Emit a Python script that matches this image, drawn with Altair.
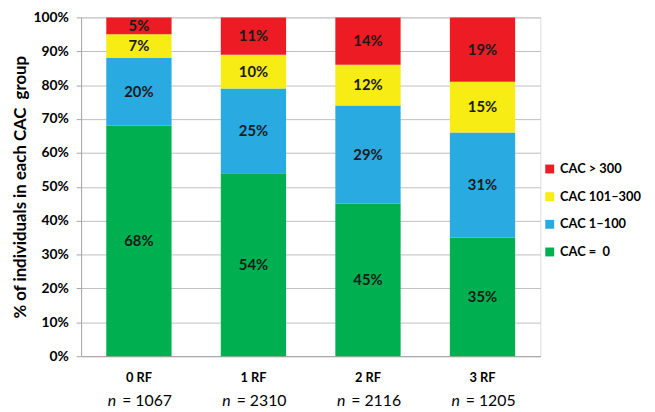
import altair as alt
import pandas as pd

groups = ["0 RF", "1 RF", "2 RF", "3 RF"]
n_values = [1067, 2310, 2116, 1205]
cac_0 = [68, 54, 45, 35]
cac_1_100 = [20, 25, 29, 31]
cac_101_300 = [7, 10, 12, 15]
cac_300 = [5, 11, 14, 19]
tick_values = [0.0, 0.1, 0.2, 0.3, 0.4, 0.5, 0.6, 0.7, 0.8, 0.9, 1.0]

categories = ["CAC =\u00a0 0", "CAC 1\u2013100", "CAC 101\u2013300", "CAC > 300"]
colors = ["#00B050", "#29ABE2", "#F7EC13", "#ED1C24"]
series = [cac_0, cac_1_100, cac_101_300, cac_300]

rows = []
for ci, (cat, vals) in enumerate(zip(categories, series)):
    for g, v in zip(groups, vals):
        rows.append({"group": g, "cat": cat, "idx": ci, "pct": v / 100.0, "lab": f"{v}%"})
df = pd.DataFrame(rows)

labels_df = pd.DataFrame({"group": groups, "n": [f"= {n}" for n in n_values], "it": ["n"] * 4})

FONT = "Lato"
W, H = 465, 343

xenc = alt.X("group:N", sort=groups,
             scale=alt.Scale(paddingInner=0.43, paddingOuter=0.22),
             axis=alt.Axis(labels=False, ticks=False, title=None, domainColor="#A6A6A6", grid=False))

yscale = alt.Scale(domain=[0, 1], nice=False)
yaxis = alt.Axis(values=tick_values, format=".0%", labelOverlap=False,
                 title="% of individuals in each CAC\u00a0 group",
                 titleFontSize=17, titleFont=FONT, titleFontWeight="bold", titleColor="#000",
                 titlePadding=3,
                 labelFont=FONT, labelFontSize=14, labelFontWeight="bold", labelColor="#000",
                 labelPadding=8, tickSize=5, tickColor="#A6A6A6", domainColor="#A6A6A6",
                 gridColor="#BFBFBF")

bars = alt.Chart(df).mark_bar().encode(
    x=xenc,
    y=alt.Y("pct:Q", stack="zero", scale=yscale, axis=yaxis),
    color=alt.Color("cat:N", sort=categories[::-1],
                    scale=alt.Scale(domain=categories[::-1], range=colors[::-1]),
                    legend=alt.Legend(title=None, orient="none", legendX=468, legendY=147,
                                      symbolType="square", symbolSize=81, symbolStrokeWidth=0,
                                      labelFont=FONT, labelFontSize=13, labelFontWeight="bold",
                                      labelColor="#000", rowPadding=14, padding=0, labelOffset=4)),
    order=alt.Order("idx:Q", sort="ascending"),
)

texts = alt.Chart(df).transform_stack(
    stack="pct", groupby=["group"], sort=[alt.SortField("idx", order="ascending")], as_=["y0", "y1"]
).transform_calculate(
    mid="(datum.y0 + datum.y1) / 2"
).mark_text(font=FONT, fontSize=15, fontWeight="bold", color="#1A1A1A", baseline="middle").encode(
    x=xenc,
    y=alt.Y("mid:Q", scale=yscale, axis=yaxis),
    text="lab:N",
)

grp_text = alt.Chart(labels_df).mark_text(font=FONT, fontSize=13, fontWeight="bold", color="#000",
                                          baseline="middle").encode(
    x=xenc, y=alt.value(H + 22), text="group:N")
n_it = alt.Chart(labels_df).mark_text(font=FONT, fontSize=16, fontStyle="italic", color="#000",
                                      baseline="middle", align="right", dx=-23).encode(
    x=xenc, y=alt.value(H + 45), text="it:N")
n_num = alt.Chart(labels_df).mark_text(font=FONT, fontSize=16, color="#000",
                                       baseline="middle", align="left", dx=-17).encode(
    x=xenc, y=alt.value(H + 45), text="n:N")

chart = alt.layer(bars, texts, grp_text, n_it, n_num).properties(
    width=W, height=H,
    autosize=alt.AutoSizeParams(type="none"),
    padding={"left": 74, "top": 7, "right": 108, "bottom": 54},
).configure_view(stroke=None).configure(background="white")

chart.save("out.html", embed_options={"renderer": "svg", "actions": False})
